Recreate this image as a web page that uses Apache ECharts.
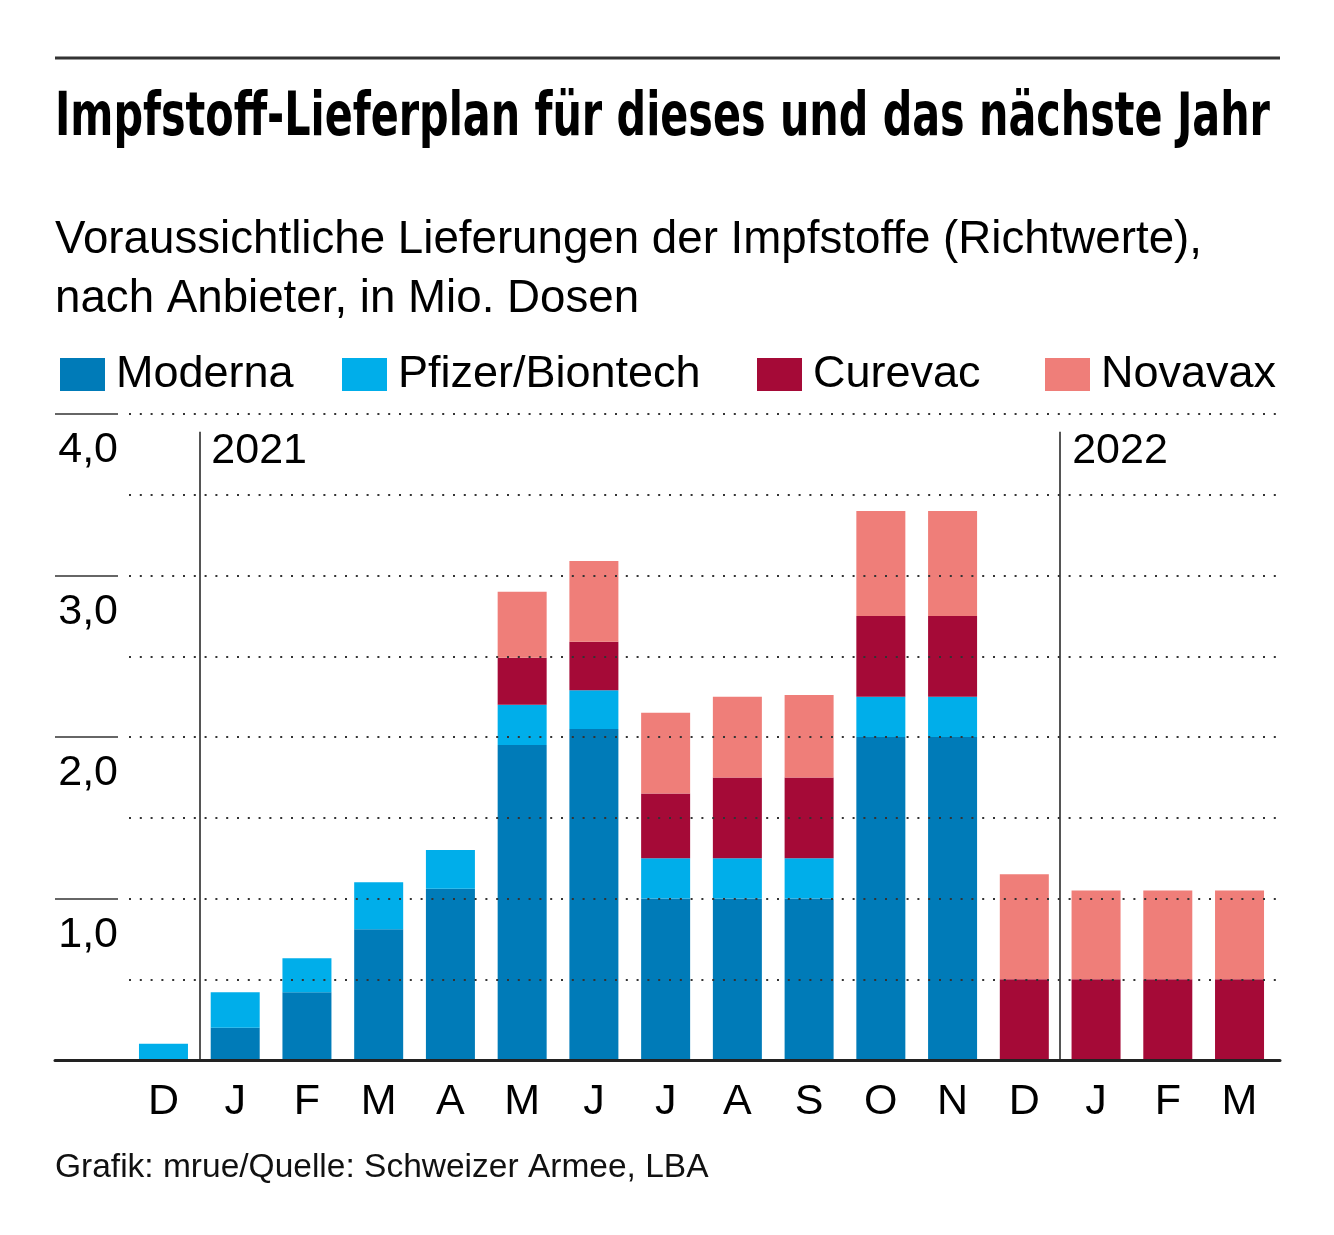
<!DOCTYPE html>
<html>
<head>
<meta charset="utf-8">
<script src="https://cdn.jsdelivr.net/npm/echarts@6/dist/echarts.min.js"></script>
<style>html,body{margin:0;padding:0;background:#fff}#c{width:1334px;height:1235px}</style>
</head>
<body>
<div id="c"></div>
<script>
const titleText = 'Impfstoff-Lieferplan für dieses und das nächste Jahr';
const subtitleLines = ['Voraussichtliche Lieferungen der Impfstoffe (Richtwerte),', 'nach Anbieter, in Mio. Dosen'];
const sourceText = 'Grafik: mrue/Quelle: Schweizer Armee, LBA';
const categories = ['D','J','F','M','A','M','J','J','A','S','O','N','D','J','F','M'];
const moderna  = [0, 0.20, 0.42, 0.81, 1.06, 1.95, 2.05, 1.00, 1.00, 1.00, 2.00, 2.00, 0, 0, 0, 0];
const pfizer   = [0.10, 0.22, 0.21, 0.29, 0.24, 0.25, 0.24, 0.25, 0.25, 0.25, 0.25, 0.25, 0, 0, 0, 0];
const curevac  = [0, 0, 0, 0, 0, 0.29, 0.30, 0.40, 0.50, 0.50, 0.50, 0.50, 0.50, 0.50, 0.50, 0.50];
const novavax  = [0, 0, 0, 0, 0, 0.41, 0.50, 0.50, 0.50, 0.51, 0.65, 0.65, 0.65, 0.55, 0.55, 0.55];
const seriesNames = ['Moderna','Pfizer/Biontech','Curevac','Novavax'];
const colors = ['#007bb8','#00aeea','#a50a37','#ef7e79'];
const yearLabels = ['2021','2022'];
const yearStartIndex = [1, 13];
const yTicks = [0, 1, 2, 3, 4];

const FONT = '"Liberation Sans", Arial, Helvetica, sans-serif';
const titleFont = 'bold 60px "Liberation Sans Narrow", "DejaVu Sans Condensed", "Liberation Sans", sans-serif';
const ctx = document.createElement('canvas').getContext('2d');
ctx.font = titleFont;
const titleScale = 1215 / ctx.measureText(titleText).width;

const chart = echarts.init(document.getElementById('c'));
const TOP = 414, H = 646;
const data = [moderna, pfizer, curevac, novavax];
const legendLefts = [55, 337, 752, 1040];

const option = {
  animation: false,
  backgroundColor: '#fff',
  textStyle: { fontFamily: FONT },
  graphic: [
    { type: 'line', shape: { x1: 55, y1: 58, x2: 1280, y2: 58 }, style: { stroke: '#333', lineWidth: 3 } },
    { type: 'text', x: 55, y: 119, scaleX: titleScale, style: { text: titleText, font: titleFont, fill: '#000', textAlign: 'left', textVerticalAlign: 'middle' } },
    { type: 'text', x: 55, y: 240, style: { text: subtitleLines[0], font: '45.7px ' + FONT, fill: '#000', textVerticalAlign: 'middle' } },
    { type: 'text', x: 55, y: 299, style: { text: subtitleLines[1], font: '45.7px ' + FONT, fill: '#000', textVerticalAlign: 'middle' } },
    { type: 'text', x: 55, y: 1168, style: { text: sourceText, font: '33.5px ' + FONT, fill: '#111', textVerticalAlign: 'middle' } }
  ],
  legend: seriesNames.map((n, i) => ({
    data: [n], left: legendLefts[i], top: 347, itemWidth: 45, itemHeight: 33, itemGap: 0,
    icon: 'rect', selectedMode: false,
    textStyle: { fontSize: 45, color: '#000', fontFamily: FONT, padding: [0, 0, 0, 6] }
  })),
  grid: [
    { left: 127.6, width: 1147.8, top: TOP, height: H },
    { left: 129, right: 54, top: TOP, height: H },
    { left: 55, width: 63, top: TOP, height: H },
    { left: 55, right: 54, top: TOP, height: H }
  ],
  xAxis: [
    { gridIndex: 0, type: 'category', data: categories, axisLine: { show: false }, axisTick: { show: false },
      axisLabel: { fontSize: 43, color: '#000', margin: 21, fontFamily: FONT } },
    { gridIndex: 0, type: 'value', min: -0.5, max: 15.5, show: false },
    { gridIndex: 1, type: 'value', show: false },
    { gridIndex: 2, type: 'value', show: false },
    { gridIndex: 3, type: 'value', z: 11, axisLine: { show: true, lineStyle: { color: '#222', width: 3 } },
      axisTick: { show: false }, axisLabel: { show: false }, splitLine: { show: false } }
  ],
  yAxis: [
    { gridIndex: 0, type: 'value', min: 0, max: 4, show: false },
    { gridIndex: 1, type: 'value', min: 0, max: 4, interval: 0.5, z: 10,
      axisLine: { show: false }, axisTick: { show: false }, axisLabel: { show: false },
      splitLine: { show: true, lineStyle: { color: '#333', width: 2, type: [2, 8.8] } } },
    { gridIndex: 2, type: 'value', min: 0, max: 4, interval: 1, position: 'right',
      axisLine: { show: false }, axisTick: { show: false },
      splitLine: { show: true, lineStyle: { color: '#333', width: 1.5 } },
      axisLabel: { inside: true, margin: 0, fontSize: 43, color: '#000', fontFamily: FONT,
        verticalAlign: 'top', padding: [15, 0, 0, 0],
        formatter: v => (yTicks.indexOf(v) > 0 ? v.toFixed(1).replace('.', ',') : '') } },
    { gridIndex: 3, type: 'value', min: 0, max: 4, show: false }
  ],
  series: seriesNames.map((n, i) => ({
    name: n, type: 'bar', stack: 'total', xAxisIndex: 0, yAxisIndex: 0,
    barWidth: 49, itemStyle: { color: colors[i] }, data: data[i]
  })).concat([{
    type: 'scatter', xAxisIndex: 1, yAxisIndex: 0, symbolSize: 0, silent: true, z: 12,
    itemStyle: { opacity: 1 },
    data: yearStartIndex.map((ix, k) => ({
      value: [ix - 0.5, 3.77],
      label: { show: true, formatter: yearLabels[k], position: 'right', distance: 12, fontSize: 43, color: '#000', opacity: 1, fontFamily: FONT }
    })),
    markLine: {
      silent: true, symbol: 'none', label: { show: false },
      lineStyle: { color: '#555', width: 2, type: 'solid' },
      data: yearStartIndex.map(ix => [{ coord: [ix - 0.5, 0] }, { coord: [ix - 0.5, 3.89] }])
    }
  }])
};
chart.setOption(option);
</script>
</body>
</html>
